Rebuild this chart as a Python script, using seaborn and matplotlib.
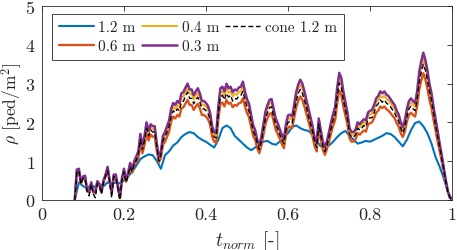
import numpy as np
import pandas as pd
import matplotlib
matplotlib.use("Agg")
import matplotlib.pyplot as plt
import seaborn as sns

# ---- data ----
series_labels = ["1.2 m", "0.6 m", "0.4 m", "0.3 m", "cone 1.2 m"]

rho_03 = [
    0.00,0.78,0.80,0.45,0.60,0.62,0.25,0.20,0.45,0.20,
    0.20,0.48,0.40,0.20,0.50,0.65,0.85,0.50,0.20,0.65,
    0.65,0.35,0.05,0.55,0.80,0.50,0.70,0.95,0.78,1.00,
    1.12,1.25,1.70,1.40,1.65,2.00,1.78,1.95,1.90,1.90,
    1.45,1.10,1.25,1.65,1.75,1.90,2.05,2.35,2.50,2.45,
    2.55,2.50,2.75,2.78,2.90,3.00,2.85,2.85,2.70,2.80,
    2.88,2.75,2.55,2.55,2.50,2.42,2.25,1.90,1.75,1.72,
    2.40,2.88,2.92,2.80,3.00,2.88,2.92,2.78,2.85,2.82,
    2.90,2.92,3.05,2.80,2.60,2.48,2.20,1.92,1.80,1.55,
    1.40,1.62,1.95,2.28,2.45,2.58,2.60,2.35,2.10,1.98,
    1.82,1.68,1.55,1.95,2.18,2.20,2.15,2.45,2.78,2.98,
    3.10,3.00,2.80,2.58,2.35,2.12,1.90,1.60,1.45,2.10,
    1.80,1.50,1.35,1.52,1.75,2.00,2.22,2.40,2.90,3.28,
    3.15,2.80,2.52,2.25,1.85,1.75,1.75,1.82,2.00,1.95,
    2.02,2.08,2.05,2.25,2.30,2.32,2.45,2.62,2.68,2.80,
    2.75,2.80,2.72,2.68,2.60,2.52,2.45,2.30,2.20,2.00,
    1.88,2.05,2.35,2.55,2.62,2.55,2.50,2.80,3.30,3.58,
    3.80,3.62,3.35,3.00,2.75,2.40,2.08,1.75,1.45,1.15,
    0.82,0.50,0.22,0.06,0.00]

rho_cone = [
    0.00,0.70,0.75,0.40,0.55,0.55,0.20,0.10,0.40,0.15,
    0.05,0.42,0.35,0.15,0.45,0.60,0.75,0.45,0.05,0.60,
    0.58,0.30,0.00,0.50,0.72,0.45,0.62,0.85,0.72,0.92,
    1.02,1.15,1.55,1.30,1.52,1.85,1.65,1.80,1.75,1.75,
    1.35,1.00,1.15,1.52,1.62,1.75,1.90,2.15,2.30,2.25,
    2.35,2.30,2.52,2.55,2.68,2.78,2.62,2.62,2.48,2.58,
    2.65,2.52,2.35,2.35,2.30,2.22,2.08,1.75,1.62,1.60,
    2.20,2.65,2.70,2.58,2.75,2.65,2.70,2.55,2.62,2.60,
    2.68,2.70,2.80,2.58,2.40,2.28,2.02,1.78,1.65,1.45,
    1.30,1.50,1.80,2.10,2.25,2.38,2.40,2.15,1.95,1.82,
    1.68,1.55,1.45,1.80,2.00,2.02,1.98,2.25,2.55,2.75,
    2.85,2.75,2.58,2.38,2.15,1.95,1.75,1.48,1.35,1.95,
    1.65,1.38,1.25,1.40,1.62,1.85,2.05,2.20,2.65,3.02,
    2.90,2.58,2.32,2.08,1.70,1.62,1.62,1.68,1.85,1.80,
    1.85,1.92,1.88,2.08,2.12,2.12,2.25,2.42,2.48,2.58,
    2.52,2.58,2.50,2.46,2.40,2.32,2.25,2.12,2.02,1.85,
    1.72,1.88,2.15,2.35,2.42,2.35,2.30,2.58,3.02,3.30,
    3.50,3.35,3.10,2.78,2.55,2.22,1.92,1.62,1.35,1.05,
    0.75,0.45,0.20,0.05,0.00]

rho_04 = [
    0.00,0.75,0.78,0.43,0.58,0.60,0.24,0.18,0.43,0.19,
    0.18,0.46,0.38,0.19,0.48,0.63,0.82,0.48,0.18,0.63,
    0.63,0.33,0.04,0.53,0.77,0.48,0.67,0.91,0.75,0.96,
    1.08,1.20,1.63,1.35,1.58,1.92,1.71,1.87,1.82,1.82,
    1.39,1.05,1.20,1.58,1.68,1.82,1.97,2.25,2.40,2.35,
    2.45,2.40,2.64,2.67,2.78,2.88,2.74,2.74,2.59,2.69,
    2.76,2.64,2.45,2.45,2.40,2.32,2.16,1.82,1.68,1.65,
    2.30,2.76,2.80,2.69,2.88,2.76,2.80,2.67,2.74,2.71,
    2.78,2.80,2.93,2.69,2.50,2.38,2.11,1.84,1.73,1.49,
    1.34,1.56,1.87,2.19,2.35,2.48,2.50,2.26,2.02,1.90,
    1.75,1.61,1.49,1.87,2.09,2.11,2.06,2.35,2.67,2.86,
    2.98,2.88,2.69,2.48,2.26,2.04,1.82,1.54,1.39,2.02,
    1.73,1.44,1.30,1.46,1.68,1.92,2.13,2.30,2.78,3.15,
    3.02,2.69,2.42,2.16,1.78,1.68,1.68,1.75,1.92,1.87,
    1.94,2.00,1.97,2.16,2.21,2.23,2.35,2.52,2.57,2.69,
    2.64,2.69,2.61,2.57,2.50,2.42,2.35,2.21,2.11,1.92,
    1.80,1.97,2.26,2.45,2.52,2.45,2.40,2.69,3.17,3.44,
    3.65,3.48,3.22,2.88,2.64,2.30,2.00,1.68,1.39,1.10,
    0.79,0.48,0.21,0.06,0.00]

rho_06 = [
    0.00,0.72,0.74,0.42,0.56,0.58,0.24,0.19,0.42,0.19,
    0.19,0.45,0.37,0.19,0.46,0.60,0.78,0.46,0.19,0.60,
    0.60,0.32,0.05,0.50,0.72,0.46,0.63,0.84,0.70,0.88,
    0.97,1.08,1.45,1.20,1.42,1.72,1.53,1.68,1.63,1.63,
    1.25,0.96,1.08,1.42,1.50,1.63,1.76,2.02,2.15,2.10,
    2.19,2.15,2.36,2.39,2.49,2.58,2.45,2.45,2.32,2.41,
    2.48,2.36,2.19,2.19,2.15,2.08,1.94,1.63,1.50,1.48,
    2.06,2.48,2.51,2.41,2.58,2.48,2.51,2.39,2.45,2.43,
    2.49,2.51,2.62,2.41,2.24,2.13,1.89,1.65,1.55,1.33,
    1.20,1.39,1.68,1.96,2.11,2.22,2.24,2.02,1.81,1.70,
    1.57,1.44,1.33,1.68,1.87,1.89,1.85,2.11,2.39,2.56,
    2.67,2.58,2.41,2.22,2.02,1.82,1.63,1.38,1.25,1.81,
    1.55,1.29,1.16,1.31,1.50,1.72,1.91,2.06,2.49,2.82,
    2.71,2.41,2.17,1.94,1.59,1.50,1.50,1.57,1.72,1.68,
    1.74,1.79,1.76,1.94,1.98,2.00,2.11,2.25,2.30,2.41,
    2.37,2.41,2.34,2.30,2.24,2.17,2.11,1.98,1.89,1.72,
    1.62,1.76,2.02,2.19,2.25,2.19,2.15,2.41,2.84,3.08,
    3.27,3.11,2.88,2.58,2.37,2.06,1.79,1.50,1.25,0.99,
    0.71,0.43,0.19,0.05,0.00]

rho_12 = [
    0.00,0.45,0.35,0.30,0.38,0.32,0.40,0.35,0.45,0.40,
    0.45,0.42,0.50,0.60,0.72,0.88,1.05,1.12,1.17,1.15,
    1.00,0.80,1.15,1.25,1.40,1.48,1.62,1.70,1.75,1.72,
    1.62,1.55,1.50,1.42,1.35,1.55,1.85,1.92,1.85,1.65,
    1.55,1.45,1.35,1.28,1.35,1.42,1.50,1.52,1.45,1.42,
    1.50,1.62,1.72,1.88,1.92,1.85,1.80,1.78,1.68,1.52,
    1.38,1.35,1.40,1.50,1.62,1.72,1.78,1.65,1.55,1.45,
    1.48,1.52,1.50,1.55,1.60,1.65,1.72,1.70,1.62,1.50,
    1.38,1.55,1.80,1.98,2.02,1.90,1.72,1.45,1.10,0.85,
    0.55,0.20,0.00]

t_fast = np.linspace(0.08, 1.0, len(rho_03))
t_blue = np.linspace(0.08, 1.0, len(rho_12))

x_ticks = [0, 0.2, 0.4, 0.6, 0.8, 1]
y_ticks = [0, 1, 2, 3, 4, 5]

colors = {"1.2 m": "#0072BD", "0.6 m": "#D95319", "0.4 m": "#EDB120",
          "0.3 m": "#7E2F8E", "cone 1.2 m": "black"}

# ---- style ----
sns.set_style("white")
plt.rcParams["font.family"] = ["cmr10", "DejaVu Serif"]
plt.rcParams["mathtext.fontset"] = "cm"
plt.rcParams["axes.formatter.use_mathtext"] = True
plt.rcParams["axes.unicode_minus"] = False

fig = plt.figure(figsize=(4.57, 2.51), dpi=100)
ax = fig.add_axes([42 / 457, 1 - 200.7 / 251, 410 / 457, 193.4 / 251])

sns.lineplot(x=t_blue, y=rho_12, ax=ax, color=colors["1.2 m"], lw=1.5, label="1.2 m")
sns.lineplot(x=t_fast, y=rho_06, ax=ax, color=colors["0.6 m"], lw=1.7, label="0.6 m")
sns.lineplot(x=t_fast, y=rho_04, ax=ax, color=colors["0.4 m"], lw=1.5, label="0.4 m")
sns.lineplot(x=t_fast, y=rho_03, ax=ax, color=colors["0.3 m"], lw=1.8, label="0.3 m")
sns.lineplot(x=t_fast, y=rho_cone, ax=ax, color=colors["cone 1.2 m"], lw=1.0,
             linestyle=(0, (3.5, 2)), label="cone 1.2 m")

ax.set_xlim(0, 1)
ax.set_ylim(0, 5)
ax.set_xticks(x_ticks)
ax.set_xticklabels(["0", "0.2", "0.4", "0.6", "0.8", "1"])
ax.set_yticks(y_ticks)
ax.tick_params(direction="in", length=3.5, width=0.6, colors="#262626",
               labelsize=13, top=True, right=True, labeltop=False, labelright=False,
               pad=5)
for s in ax.spines.values():
    s.set_visible(True)
    s.set_color("#262626")
    s.set_linewidth(0.6)

ax.set_xlabel(r"$t_{norm}$ [-]", fontsize=14, color="#262626")
ax.set_ylabel(r"$\rho$ [ped/m$^2$]", fontsize=12.5, color="#262626")
ax.xaxis.set_label_coords(0.5, -0.145)
ax.yaxis.set_label_coords(-0.045, 0.5)

leg = ax.legend(ncol=3, loc="upper left", bbox_to_anchor=(0.024, 0.962),
                borderaxespad=0, frameon=True, fancybox=False, framealpha=1,
                edgecolor="#262626", fontsize=11, handlelength=2.3,
                handletextpad=0.3, columnspacing=0.4, labelspacing=0.35,
                borderpad=0.45)
leg.get_frame().set_linewidth(0.6)

fig.savefig("out.png", dpi=100)
